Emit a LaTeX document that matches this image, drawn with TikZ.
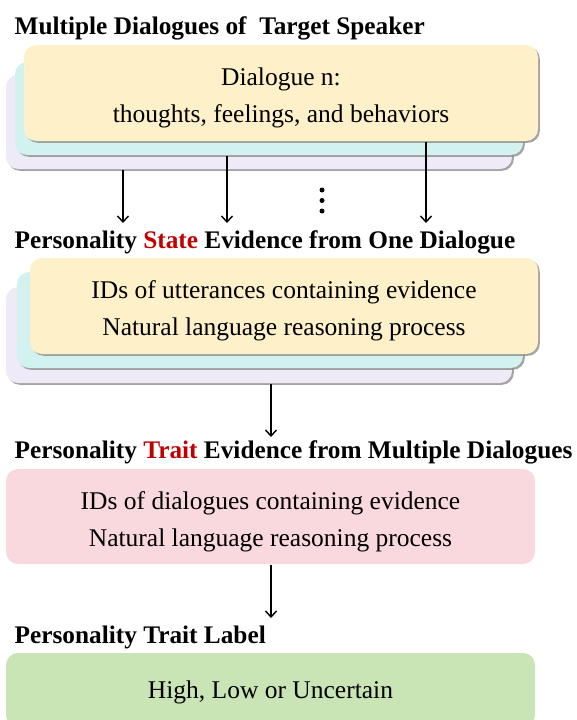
\documentclass[tikz,border=0pt]{standalone}
\usepackage{fontspec}
\setmainfont{Liberation Serif}
\usepackage{tikz}
\usetikzlibrary{arrows.meta, shadows}

\definecolor{cardyellow}{HTML}{FEF0C8}
\definecolor{cardteal}{HTML}{D2F2EF}
\definecolor{cardlav}{HTML}{EFEAF8}
\definecolor{cardpink}{HTML}{F9D9DE}
\definecolor{cardgreen}{HTML}{C9E4B5}
\definecolor{evired}{HTML}{C00000}

\begin{document}
\begin{tikzpicture}[->,>={Straight Barb[length=6pt,width=11pt]},x=1pt,y=-1pt,line width=1.4pt,
                    font=\fontsize{25.5}{37}\selectfont]
  \tikzstyle{card}=[rounded corners=12pt,inner sep=0pt,align=center,draw=none]
  \tikzstyle{twoline}=[text height=65pt,text depth=5.5pt]
  \tikzstyle{lifted}=[drop shadow={shadow xshift=1.8pt,shadow yshift=-1.8pt,fill=black!45,opacity=.8}]
  \tikzstyle{head}=[anchor=base west,inner sep=0pt,font=\fontsize{25.3}{30}\selectfont\bfseries]
  \tikzstyle{dot}=[circle,fill=black,inner sep=0pt,minimum size=5pt]

  \useasboundingbox (0,0) rectangle (576,720);

  \node[head] (T) at (14,34) {Multiple Dialogues of\ \ Target Speaker};
  \node[card,lifted,fill=cardlav,minimum width=506pt,minimum height=94pt]    (D3) at (259,122)   {};
  \node[card,lifted,fill=cardteal,minimum width=508pt,minimum height=93pt]   (D2) at (269,108.5) {};
  \node[card,twoline,lifted,fill=cardyellow,minimum width=514pt,minimum height=96pt] (D1) at (281,93)
       {Dialogue n:\\thoughts, feelings, and behaviors};

  \node[head] (S) at (14,248) {Personality \textcolor{evired}{State} Evidence from One Dialogue};
  \node[card,lifted,fill=cardlav,minimum width=506pt,minimum height=96pt]    (E3) at (259,335) {};
  \node[card,lifted,fill=cardteal,minimum width=506pt,minimum height=96pt]   (E2) at (270,320) {};
  \node[card,twoline,lifted,fill=cardyellow,minimum width=508pt,minimum height=96pt] (E1) at (284,306)
       {IDs of utterances containing evidence\\Natural language reasoning process};

  \node[head] (R) at (14,458) {Personality \textcolor{evired}{Trait} Evidence from Multiple Dialogues};
  \node[card,twoline,fill=cardpink,minimum width=529pt,minimum height=95pt] (F) at (270.5,516.5)
       {IDs of dialogues containing evidence\\Natural language reasoning process};

  \node[head] (P) at (14,643) {Personality Trait Label};
  \node[card,fill=cardgreen,minimum width=529pt,minimum height=74pt,text height=23pt] (L) at (270.5,690)
       {High, Low or Uncertain};

  \coordinate (a1) at (123,223);
  \coordinate (a2) at (227,223);
  \coordinate (a3) at (426,223);
  \coordinate (a4) at (271,437);
  \coordinate (a5) at (271,618);
  \foreach \y in {190,200.5,211}
    \node[dot] at (322,\y) {};

  \path (D3.south -| a1) edge (a1)
        (D2.south -| a2) edge (a2)
        (D1.south -| a3) edge (a3)
        (E3.south -| a4) edge (a4)
        (F.south -| a5)  edge (a5);
\end{tikzpicture}
\end{document}
